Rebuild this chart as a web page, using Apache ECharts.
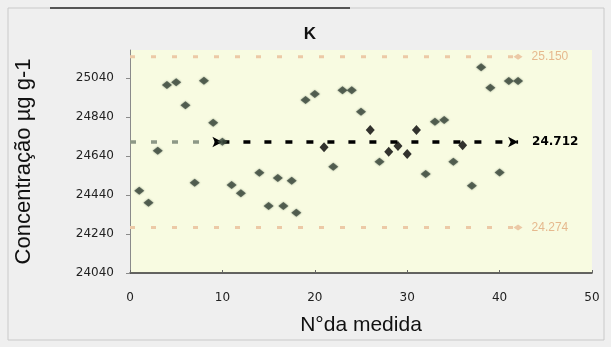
<!DOCTYPE html>
<html>
<head>
<meta charset="utf-8">
<script src="https://cdn.jsdelivr.net/npm/echarts@6/dist/echarts.min.js"></script>
<style>
html,body{margin:0;padding:0;background:#efefef;}
#c{width:611px;height:347px;}
</style>
</head>
<body>
<div id="c"></div>
<script>
// ---- data ----
const titleText = 'K';
const xName = 'N°da medida';
const yName = 'Concentração µg g-1';
const xMin = 0, xMax = 50, xInterval = 10;
const yMin = 24040, yMax = 25184, yInterval = 200;

const normalX = [1,2,3,4,5,6,7,8,9,10,11,12,14,15,16,16.6,17.5,18,19,20,22,23,24,25,27,32,33,34,35,37,38,39,40,41,42];
const normalY = [24462,24400,24667,25004,25018,24901,24503,25026,24811,24713,24491,24449,24554,24384,24527,24384,24513,24349,24927,24958,24585,24978,24978,24867,24611,24548,24816,24825,24611,24488,25095,24990,24556,25025,25025];
const blackX = [21,26,28,29,30,31,36];
const blackY = [24685,24773,24662,24691,24650,24773,24696];

const upperLimit = 25150, centerLine = 24712, lowerLimit = 24274;
const lineStart = 0, centerBlackStart = 10, lineEnd = 42;
const upperLabel = '25.150', centerLabel = '24.712', lowerLabel = '24.274';

const chart = echarts.init(document.getElementById('c'));

function pairs(xs, ys){ return xs.map((x,i)=>[x, ys[i]]); }
function hLine(y, x0, x1){ return [[x0,y],[x1,y]]; }

const limitColor = '#ecc9a6';
const labelFont = 'Liberation Sans';

function limitSeries(y, text){
  const d = hLine(y, lineStart, lineEnd);
  return {
    type:'line', data:d, silent:true, z:2,
    symbol:'diamond', symbolSize:[0,0], showSymbol:true,
    lineStyle:{color:limitColor, width:3, type:[5,16]},
    itemStyle:{color:limitColor},
    label:{show:false},
    markPoint:{
      symbol:'diamond', symbolSize:[9,6], silent:true,
      itemStyle:{color:limitColor},
      label:{show:true, position:'right', distance:9, formatter:text, color:'#e6b98e', fontSize:12, fontFamily:labelFont},
      data:[{coord:d[1]}]
    }
  };
}

const option = {
  backgroundColor:'#efefef',
  animation:false,
  title:{text:titleText, left:305, top:21, textAlign:'center',
    textStyle:{fontSize:17, fontWeight:'bold', color:'#111', fontFamily:labelFont}},
  grid:{left:130, right:19, top:50, bottom:74, show:true, backgroundColor:'#f8fbe1', borderWidth:0},
  xAxis:{
    type:'value', min:xMin, max:xMax, interval:xInterval,
    name:xName, nameLocation:'middle', nameGap:42,
    nameTextStyle:{fontSize:21, color:'#111', fontFamily:labelFont},
    axisLine:{show:true, onZero:false, lineStyle:{color:'#333', width:1.5}},
    axisTick:{show:true, inside:true, length:3, lineStyle:{color:'#666'}},
    axisLabel:{fontSize:12, color:'#222', margin:19, fontFamily:'DejaVu Sans'},
    splitLine:{show:false}
  },
  yAxis:{
    type:'value', min:yMin, max:yMax, interval:yInterval,
    name:yName, nameLocation:'middle', nameGap:95,
    nameTextStyle:{fontSize:22, color:'#111', fontFamily:'Liberation Sans Narrow, Liberation Sans'},
    axisLine:{show:true, lineStyle:{color:'#8a8a8a', width:1}},
    axisTick:{show:true, length:4, lineStyle:{color:'#8a8a8a'}},
    axisLabel:{fontSize:12, color:'#222', margin:16, showMaxLabel:false, fontFamily:'DejaVu Sans',
      formatter:v => String(v)},
    splitLine:{show:false}
  },
  series:[
    limitSeries(upperLimit, upperLabel),
    limitSeries(lowerLimit, lowerLabel),
    {
      type:'line', data:hLine(centerLine, lineStart, centerBlackStart), silent:true, z:2,
      showSymbol:false, symbol:'none',
      lineStyle:{color:'#8d9886', width:3.5, type:[6,15]}
    },
    {
      type:'line', data:hLine(centerLine, centerBlackStart, lineEnd), silent:true, z:3,
      symbol:'arrow', symbolSize:[8,10], symbolRotate:-90, showSymbol:true,
      lineStyle:{color:'#000', width:3.5, type:[7,14]},
      itemStyle:{color:'#000'},
      label:{show:true, position:'right', distance:14, color:'#000', fontSize:12, fontWeight:'bold', fontFamily:'DejaVu Sans',
        formatter:p => p.dataIndex === 1 ? centerLabel : ''}
    },
    {
      type:'scatter', data:pairs(normalX, normalY), z:4,
      symbol:'diamond', symbolSize:[10,8],
      itemStyle:{color:'#3d4a3e', shadowBlur:2, shadowColor:'rgba(40,60,40,0.6)'}
    },
    {
      type:'scatter', data:pairs(blackX, blackY), z:5,
      symbol:'diamond', symbolSize:[9,10],
      itemStyle:{color:'#000'}
    }
  ],
  graphic:[
    {type:'rect', shape:{x:8, y:8, width:596, height:332}, style:{fill:'none', stroke:'#c9c9c9', lineWidth:1}, silent:true},
    {type:'line', shape:{x1:50, y1:8, x2:350, y2:8}, style:{stroke:'#555', lineWidth:2}, silent:true}
  ]
};
chart.setOption(option);
</script>
</body>
</html>
